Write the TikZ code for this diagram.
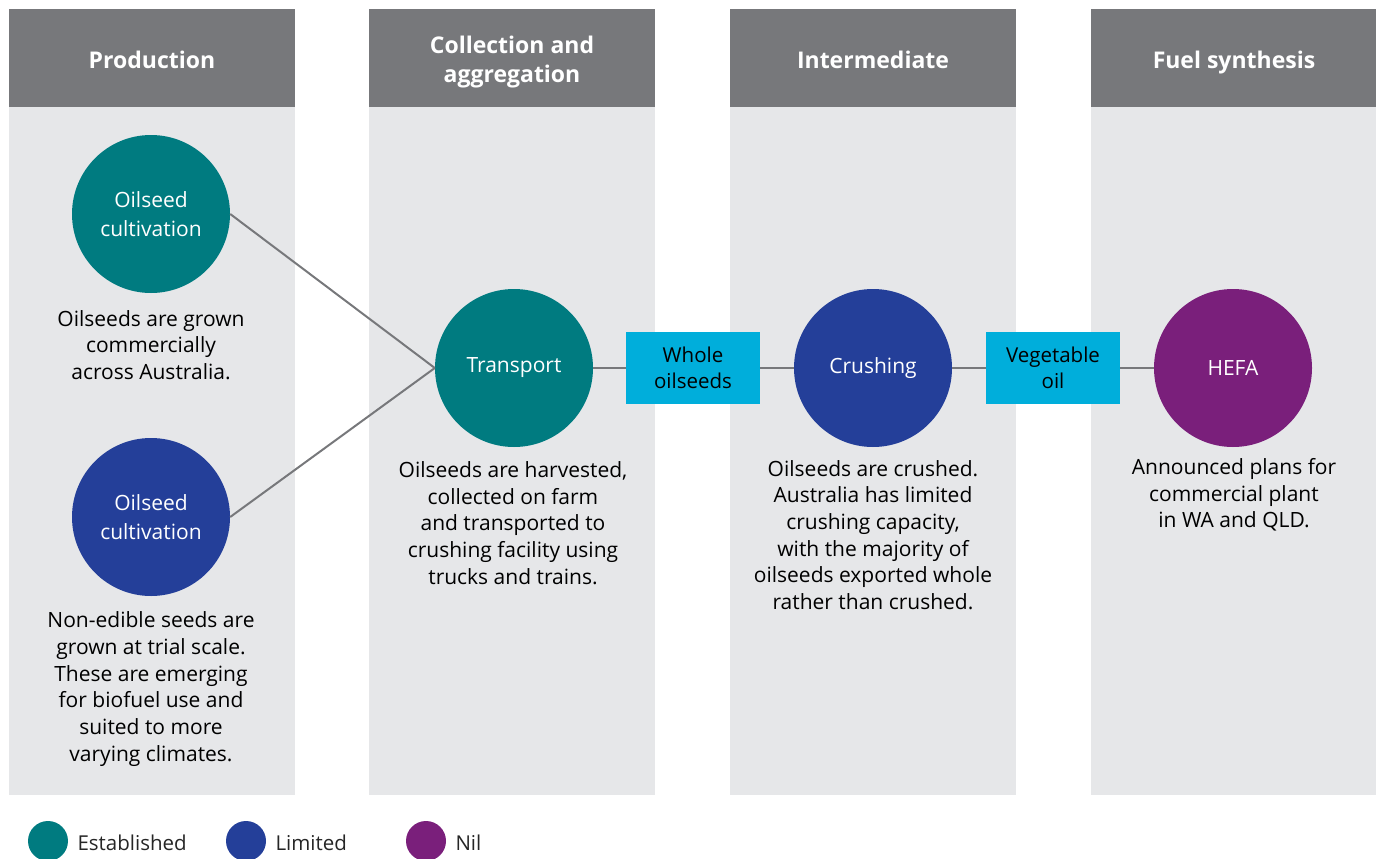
\documentclass[tikz,border=0pt]{standalone}
\usepackage{fontspec}
\setmainfont{Open Sans}
\usetikzlibrary{positioning}

\definecolor{hdrgray}{HTML}{77787B}
\definecolor{colgray}{HTML}{E6E7E9}
\definecolor{estab}{HTML}{007B80}
\definecolor{limit}{HTML}{243F99}
\definecolor{nilc}{HTML}{7A1F7B}
\definecolor{flowbox}{HTML}{00AEDB}
\definecolor{linkgray}{HTML}{77787B}

\begin{document}
\begin{tikzpicture}[x=1pt,y=-1pt,
        stage/.style={circle, minimum size=158pt, inner sep=0pt, text=white,
                align=center, font=\fontsize{21}{29}\selectfont},
        product/.style={fill=flowbox, minimum width=134pt, minimum height=72pt,
                inner sep=0pt, align=center, font=\fontsize{20.5}{26}\selectfont},
        note/.style={align=center, font=\fontsize{21}{26.7}\selectfont},
        header/.style={text=white, align=center, text depth=6pt,
                font=\bfseries\fontsize{23}{29}\selectfont},
        link/.style={draw=linkgray, line width=2pt},
        key/.style={anchor=west, font=\fontsize{20.5}{24}\selectfont, text=black!85}]

        \useasboundingbox (0,0) rectangle (1376,859);

        % ===============================
        % Columnas de la cadena
        % ===============================
        \foreach \x/\t [count=\i] in {
                9/{Production},
                369/{Collection and\\aggregation},
                730/{Intermediate},
                1091/{Fuel synthesis}}{
                \fill[colgray] (\x,107) rectangle ++(286,688);
                \fill[hdrgray] (\x,9) rectangle ++(286,98);
                \node[header] (h\i) at (\x+143,62.5) {\t};
            }

        % ===============================
        % Etapas
        % ===============================
        \node[stage, fill=estab] (cult1) at (151,214) {Oilseed\\cultivation};
        \node[stage, fill=limit] (cult2) at (151,517) {Oilseed\\cultivation};
        \node[stage, fill=estab] (trans) at (514,368) {Transport};
        \node[product] (whole) at (693,368) {Whole\\oilseeds};
        \node[stage, fill=limit] (crush) at (873,368) {Crushing};
        \node[product] (vegoil) at (1053,368) {Vegetable\\oil};
        \node[stage, fill=nilc] (hefa) at (1233,368) {HEFA};

        % Conexiones
        \draw[link] (cult1.east) -- (trans.west);
        \draw[link] (cult2.east) -- (trans.west);
        \draw[link] (trans.east) -- (whole.west);
        \draw[link] (whole.east) -- (crush.west);
        \draw[link] (crush.east) -- (vegoil.west);
        \draw[link] (vegoil.east) -- (hefa.west);

        % ===============================
        % Descripciones
        % ===============================
        \node[note] (d1) at (151,345) {Oilseeds are grown\\commercially\\across Australia.};
        \node[note] (d2) at (151,689) {Non-edible seeds are\\grown at trial scale.\\These are emerging\\for biofuel use and\\suited to more\\varying climates.};
        \node[note] (d3) at (513,523) {Oilseeds are harvested,\\collected on farm\\and transported to\\crushing facility using\\trucks and trains.};
        \node[note] (d4) at (873,535) {Oilseeds are crushed.\\Australia has limited\\crushing capacity,\\with the majority of\\oilseeds exported whole\\rather than crushed.};
        \node[note] (d5) at (1234,495) {Announced plans for\\commercial plant\\in WA and QLD.};

        % ===============================
        % Leyenda
        % ===============================
        \foreach \x/\c/\t [count=\i] in {48/estab/Established, 246/limit/Limited, 426/nilc/Nil}{
                \fill[\c] (\x,841) circle (20);
                \node[key] (k\i) at (\x+26,843) {\t};
            }

    \end{tikzpicture}
\end{document}
